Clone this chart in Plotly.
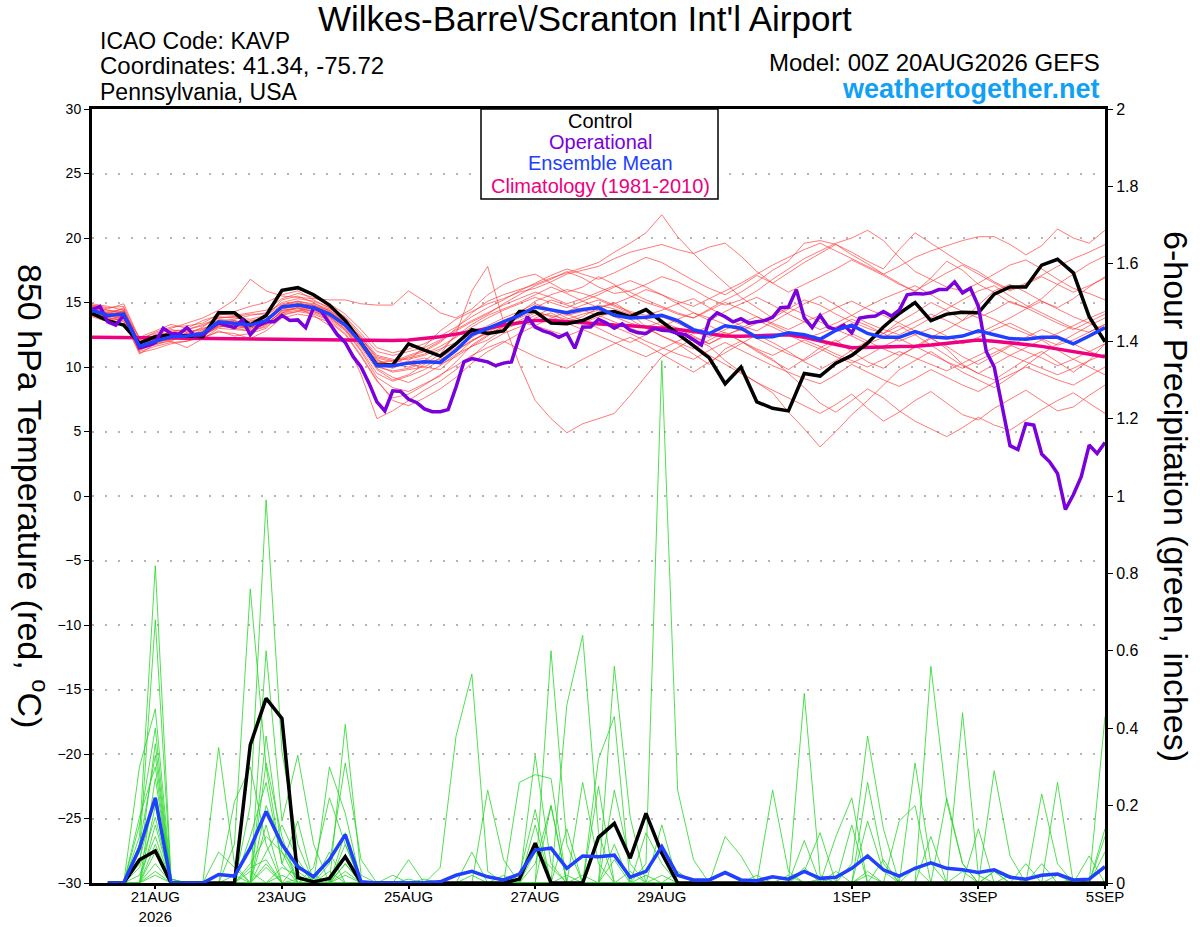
import pandas as pd
import plotly.graph_objects as go

# -----------------------------
# Data
# -----------------------------
run_time = "2026-08-20 00:00"
t6 = pd.date_range(run_time, periods=65, freq="6h")    # 6-hourly temperature steps
t3 = pd.date_range(run_time, periods=129, freq="3h")   # 3-hourly operational run
tp = t6[1:]                                            # 6-hour precip valid times

tick_dates = ["2026-08-21", "2026-08-23", "2026-08-25", "2026-08-27",
              "2026-08-29", "2026-09-01", "2026-09-03", "2026-09-05"]
tick_text = ["21AUG<br>2026", "23AUG", "25AUG", "27AUG", "29AUG", "1SEP", "3SEP", "5SEP"]
temp_ticks = [-30, -25, -20, -15, -10, -5, 0, 5, 10, 15, 20, 25, 30]
precip_ticks = [0, 0.2, 0.4, 0.6, 0.8, 1, 1.2, 1.4, 1.6, 1.8, 2]

climatology = [12.3, 12.3, 12.28, 12.27, 12.25, 12.24, 12.23, 12.22, 12.2, 12.2, 12.18, 12.17,
               12.15, 12.14, 12.12, 12.1, 12.1, 12.08, 12.05, 12.05, 12.1, 12.2, 12.35, 12.55,
               12.75, 12.98, 13.25, 13.45, 13.6, 13.6, 13.5, 13.4, 13.3, 13.25, 13.2, 13.1,
               13.05, 12.9, 12.75, 12.55, 12.4, 12.38, 12.4, 12.45, 12.5, 12.3, 12.0, 11.75,
               11.5, 11.5, 11.55, 11.58, 11.6, 11.7, 11.85, 12.0, 12.1, 12.0, 11.9, 11.75,
               11.6, 11.4, 11.2, 11.0, 10.8]

ens_mean = [14.4, 14.0, 14.1, 11.6, 12.0, 12.35, 12.4, 12.6, 13.5, 13.4, 13.25, 13.6, 14.65,
            14.8, 14.6, 14.1, 13.25,
            11.9, 10.1, 10.1, 10.3, 10.4, 10.35, 11.3, 12.5, 13.0, 13.5,
            14.0, 14.65, 14.4, 14.2, 14.45, 14.6, 14.0, 13.8, 13.85, 14.0, 13.6, 12.9, 12.6, 13.2,
            13.0, 12.3, 12.35, 12.65, 12.5, 12.15, 12.85, 13.25, 12.6, 12.3, 12.3, 12.75,
            12.35, 12.25, 12.4, 12.8, 12.5, 12.2, 12.15, 12.3, 12.3, 11.8, 12.4, 13.05]

control = [14.15, 13.6, 13.25, 11.85, 12.35, 12.5, 12.4, 12.35, 14.2, 14.2, 13.25, 14.0, 15.95,
           16.15, 15.6, 14.8, 13.6,
           11.85, 10.15, 10.15, 11.8, 11.3, 10.85, 11.8, 12.9, 12.6, 12.8,
           14.3, 14.3, 13.4, 13.35, 13.6, 14.15, 14.3, 13.9, 14.45, 13.5, 12.6, 11.6, 10.7, 8.7,
           10.0, 7.3, 6.8, 6.6, 9.5, 9.3, 10.3, 10.9, 11.85, 13.1, 14.15, 15.0, 13.6, 14.1,
           14.25, 14.2, 15.65, 16.2, 16.2, 17.9, 18.35, 17.3, 13.9, 11.95]

operational = [14.45, 14.7, 13.5, 13.25, 14.0, 12.9, 11.5, 11.65, 11.9, 13.0, 12.6, 12.55,
               13.05, 12.4, 12.5, 13.0, 13.4, 13.2, 13.05, 13.65, 12.5, 13.2, 13.5, 13.5,
               14.0, 13.6, 13.65, 13.05, 14.6, 14.3, 13.4, 12.5, 11.9, 10.8, 10.0, 8.75,
               7.3, 6.6, 8.15, 8.1, 7.5, 7.25, 6.75,
               6.53, 6.53, 6.7, 8.45, 10.4, 10.65, 10.5, 10.4, 10.1, 10.3, 10.4, 12.35,
               13.9, 13.1, 12.8, 12.6, 12.3, 12.6, 11.45, 13.1, 13.1, 13.7, 13.4, 13.0,
               13.35, 12.85, 12.65, 12.6, 13.0, 12.85, 12.8, 12.6, 12.5, 12.1, 11.7, 13.65,
               14.2, 13.9, 13.5, 13.75, 13.4, 13.5,
               13.6, 13.85, 14.6, 14.65, 16.0, 13.8, 13.05, 14.0, 13.1, 12.9, 13.25, 12.65,
               13.8, 13.9, 13.95, 14.3, 13.95, 14.4, 15.6, 15.7, 15.65, 15.75, 16.0, 16.0,
               16.6, 15.75, 16.1, 14.7, 11.2, 10.0, 6.9, 3.9, 3.6, 5.6, 5.5, 3.25,
               2.65, 1.75, -1.05, 0.1, 1.5, 3.95, 3.3, 4.15]

# ensemble members, 850 hPa temperature
red01 = [14.8, 14.5, 14.9, 12.2, 12.6, 13.0, 13.4, 13.8, 14.4, 15.2, 16.8, 15.9, 15.5, 15.4, 15.3, 15.2, 15.2,
         14.9, 14.8, 14.8, 15.9, 15.1, 14.2, 13.8, 14.5, 15.6, 16.4,
         16.9, 17.2, 16.5, 15.8, 16.2, 17.0, 16.4, 15.5, 15.0, 14.6, 14.1, 13.8, 14.5, 15.2,
         15.8, 16.6, 17.5, 18.2, 19.6, 19.8, 19.5, 18.7, 18.0, 17.2, 16.5, 15.8, 16.9, 18.2, 17.5, 16.4,
         15.8, 15.0, 14.6, 15.3, 16.4, 17.2, 18.0, 18.6]
red02 = [14.2, 13.8, 13.6, 11.0, 11.8, 12.0, 11.5, 12.2, 12.8, 12.4, 12.6, 13.0, 14.2, 14.6, 14.0, 13.2, 12.1,
         9.4, 6.0, 6.6, 7.4, 8.2, 8.9, 9.8, 10.8, 11.9, 12.6,
         13.1, 13.8, 14.2, 13.5, 13.9, 14.6, 15.0, 14.2, 13.1, 12.4, 11.8, 11.0, 10.2, 11.4,
         12.0, 11.2, 10.5, 9.8, 10.6, 11.5, 12.1, 11.2, 10.4, 9.9, 10.8, 11.6, 12.3, 11.4, 10.2, 9.5,
         9.0, 9.8, 10.6, 11.2, 10.4, 9.6, 10.5, 11.8]
red03 = [14.5, 14.1, 14.6, 11.8, 12.2, 12.8, 12.9, 13.2, 13.8, 13.9, 13.5, 13.9, 15.2, 15.5, 15.0, 14.3, 13.4,
         12.0, 10.5, 10.2, 10.8, 11.2, 11.9, 13.0, 14.2, 15.1, 15.6,
         16.0, 16.4, 16.9, 17.3, 17.7, 18.1, 18.9, 19.6, 20.4, 21.8, 20.1, 18.8, 17.6, 16.5,
         15.4, 14.6, 13.8, 14.5, 15.2, 14.8, 14.1, 13.5, 13.0, 12.6, 13.5, 14.2, 15.0, 14.4, 13.6, 14.8,
         15.9, 16.4, 15.8, 15.1, 14.6, 15.3, 16.2, 17.0]
red04 = [14.0, 13.6, 13.9, 11.2, 11.6, 11.9, 12.0, 12.4, 13.2, 13.0, 12.8, 13.2, 14.4, 14.5, 14.3, 13.8, 12.9,
         11.5, 9.8, 9.0, 9.4, 10.2, 11.0, 12.6, 15.9, 17.8, 13.5,
         10.2, 7.4, 6.0, 4.9, 5.6, 6.0, 6.4, 7.8, 9.3, 10.8, 11.5, 12.2, 11.6, 10.5,
         9.6, 8.8, 8.0, 6.5, 5.2, 3.8, 5.0, 6.3, 7.4, 8.6, 9.8, 10.5, 11.2, 10.4, 9.6, 9.0,
         8.4, 9.2, 10.1, 11.0, 11.8, 12.5, 13.2, 13.8]
red05 = [14.6, 14.3, 14.2, 11.9, 12.4, 12.7, 12.3, 12.9, 13.6, 13.7, 14.0, 14.2, 14.9, 15.1, 14.9, 14.5, 13.8,
         12.4, 10.9, 10.6, 10.2, 10.0, 9.8, 10.9, 12.0, 12.8, 13.4,
         14.2, 15.1, 15.6, 16.0, 15.7, 15.3, 14.8, 14.3, 14.0, 14.4, 14.9, 15.3, 14.6, 13.9,
         13.2, 12.8, 13.5, 14.2, 14.9, 15.5, 14.8, 14.0, 13.4, 12.9, 12.5, 13.1, 13.8, 14.5, 15.2, 15.9,
         16.3, 15.5, 14.8, 14.2, 13.6, 13.0, 12.7, 13.3]
red06 = [14.3, 14.0, 13.7, 11.4, 11.9, 12.2, 12.6, 12.5, 13.1, 13.3, 13.0, 13.4, 14.0, 14.3, 14.7, 14.4, 13.5,
         11.8, 9.9, 9.2, 8.8, 9.4, 10.1, 11.0, 11.6, 12.1, 12.9,
         13.4, 14.0, 14.5, 14.1, 13.6, 13.0, 12.4, 11.9, 12.5, 13.2, 12.6, 11.8, 10.9, 10.2,
         9.5, 8.8, 8.2, 7.6, 7.0, 6.4, 7.1, 7.9, 6.8, 5.8, 6.5, 7.4, 8.1, 7.2, 6.3, 5.9,
         6.8, 7.5, 8.2, 7.4, 6.6, 6.9, 7.8, 8.6]
red07 = [14.9, 14.7, 14.4, 12.0, 12.5, 12.9, 12.7, 13.0, 13.4, 13.1, 13.6, 13.8, 14.6, 14.9, 14.8, 14.4, 13.6,
         12.3, 10.7, 10.4, 10.9, 11.3, 12.0, 12.8, 13.5, 14.1, 14.9,
         15.6, 16.3, 16.8, 17.4, 16.9, 16.2, 15.7, 15.9, 16.4, 17.0, 16.6, 16.0, 15.3, 14.8,
         15.2, 15.9, 16.8, 17.6, 18.4, 19.0, 19.6, 20.0, 20.6, 19.8, 18.5, 17.4, 16.8, 16.2, 15.9, 16.5,
         17.2, 17.9, 18.3, 17.6, 16.8, 16.1, 15.7, 15.2]
red08 = [14.1, 13.7, 14.0, 11.5, 11.7, 12.1, 12.5, 12.7, 13.3, 13.2, 12.9, 13.3, 14.3, 14.6, 14.4, 13.9, 13.0,
         11.6, 10.0, 9.7, 9.9, 10.3, 10.6, 11.2, 12.1, 12.6, 13.1,
         13.6, 14.2, 14.0, 13.7, 14.1, 14.4, 13.9, 13.4, 13.1, 13.5, 13.0, 12.4, 11.8, 12.5,
         12.9, 12.2, 11.6, 11.0, 10.5, 11.2, 11.9, 12.6, 12.0, 11.4, 10.9, 11.5, 12.2, 11.6, 10.8, 10.2,
         10.9, 11.6, 12.3, 12.9, 12.4, 11.8, 11.2, 10.8]
red09 = [14.7, 14.4, 14.3, 12.3, 12.8, 13.3, 13.0, 13.6, 14.0, 14.3, 14.7, 15.0, 15.6, 15.9, 15.2, 14.6, 13.7,
         12.2, 10.6, 10.0, 10.5, 11.6, 12.8, 13.7, 14.3, 14.9, 15.3,
         15.8, 16.1, 16.6, 17.2, 17.5, 17.8, 18.4, 18.9, 19.2, 19.5, 19.1, 18.8, 19.3, 19.6,
         18.6, 17.4, 16.5, 17.3, 18.1, 18.8, 19.5, 18.9, 18.2, 17.6, 19.1, 20.4, 19.6, 18.8, 18.0, 17.4,
         16.6, 16.0, 16.5, 17.1, 17.8, 18.4, 18.9, 19.5]
red10 = [13.9, 13.5, 13.8, 11.1, 11.4, 11.8, 12.0, 12.3, 12.7, 12.6, 12.2, 12.8, 13.8, 14.1, 13.9, 13.5, 12.5,
         10.8, 8.9, 7.6, 7.9, 8.6, 9.4, 10.1, 10.9, 11.5, 12.0,
         11.4, 10.8, 10.3, 9.9, 10.6, 11.2, 11.8, 12.3, 11.7, 11.0, 10.3, 9.6, 10.4, 11.1,
         11.8, 12.5, 11.9, 11.2, 10.4, 9.8, 10.5, 11.3, 12.0, 12.6, 13.2, 12.5, 11.7, 10.9, 10.1, 9.5,
         10.2, 10.9, 11.5, 12.1, 11.3, 10.6, 10.0, 9.4]
red11 = [14.4, 14.2, 14.5, 11.7, 12.3, 12.4, 12.8, 12.6, 13.5, 13.6, 13.3, 13.7, 14.8, 15.0, 14.7, 14.2, 13.3,
         12.1, 10.4, 10.2, 10.0, 10.5, 11.3, 12.4, 13.3, 14.0, 14.5,
         15.0, 15.6, 16.2, 15.7, 15.1, 14.6, 14.9, 15.4, 16.0, 15.6, 14.9, 14.2, 13.6, 14.3,
         14.9, 15.4, 14.8, 14.1, 13.5, 12.9, 13.4, 14.0, 14.7, 15.3, 15.8, 16.3, 15.6, 14.9, 14.3, 13.8,
         14.4, 15.1, 14.6, 14.0, 13.4, 12.9, 13.5, 14.1]
red12 = [14.6, 14.1, 14.3, 11.6, 12.1, 12.5, 12.2, 12.8, 13.7, 13.5, 13.4, 13.5, 14.5, 14.7, 14.5, 14.0, 13.1,
         11.7, 10.1, 9.6, 9.8, 10.0, 10.7, 11.5, 12.3, 13.0, 13.6,
         14.1, 14.7, 14.4, 13.8, 13.4, 13.9, 14.3, 13.7, 13.0, 12.4, 11.9, 11.4, 12.1, 12.7,
         12.0, 11.3, 10.6, 9.5, 8.4, 7.2, 6.5, 7.4, 8.3, 7.6, 6.6, 5.8, 5.2, 4.6, 5.3, 6.1,
         5.5, 5.1, 5.9, 6.7, 7.4, 8.0, 7.2, 6.4]
red13 = [14.2, 13.9, 14.1, 11.3, 11.9, 12.3, 12.1, 12.7, 13.4, 13.6, 13.2, 13.6, 14.7, 14.8, 14.6, 14.1, 13.2,
         11.9, 10.3, 10.5, 10.6, 10.9, 11.4, 11.9, 12.6, 13.2, 13.8,
         14.3, 14.9, 14.5, 14.0, 14.3, 14.8, 14.5, 14.1, 13.8, 13.9, 13.4, 12.8, 12.3, 12.9,
         13.4, 13.9, 13.3, 12.7, 12.2, 12.6, 13.1, 13.7, 13.2, 12.6, 12.0, 12.5, 13.0, 12.4, 11.8, 12.3,
         12.9, 13.4, 12.8, 12.2, 11.7, 12.1, 12.7, 13.3]
red14 = [14.5, 14.0, 13.8, 11.9, 12.0, 12.6, 12.4, 12.5, 13.2, 13.0, 13.1, 13.4, 14.2, 14.4, 14.2, 13.7, 12.8,
         11.2, 9.2, 8.4, 8.1, 8.7, 9.3, 10.4, 11.7, 12.5, 13.0,
         13.5, 13.2, 12.8, 12.4, 12.9, 13.5, 13.1, 12.6, 12.0, 11.5, 11.0, 10.6, 11.3, 11.9,
         11.3, 10.7, 10.1, 9.6, 9.1, 8.7, 9.4, 10.2, 9.6, 9.0, 8.5, 9.1, 9.8, 9.2, 8.6, 8.1,
         8.8, 9.4, 10.0, 9.5, 9.0, 8.6, 9.3, 10.0]
red15 = [14.8, 14.6, 14.7, 12.1, 12.7, 13.1, 13.2, 13.4, 14.1, 14.0, 14.2, 14.4, 15.3, 15.7, 15.4, 14.9, 14.1,
         12.9, 11.5, 11.1, 11.4, 11.8, 12.4, 13.1, 13.9, 14.6, 15.2,
         15.9, 16.5, 17.1, 17.6, 17.2, 16.8, 17.3, 17.9, 18.5, 18.1, 17.4, 16.7, 16.1, 15.6,
         16.3, 17.1, 16.5, 15.8, 16.4, 17.0, 17.6, 18.3, 17.7, 17.1, 16.4, 15.9, 16.6, 17.3, 17.9, 17.2,
         16.5, 15.9, 16.4, 17.0, 16.4, 15.8, 16.3, 16.9]
red16 = [14.0, 13.8, 14.4, 11.6, 12.2, 12.0, 12.7, 12.9, 13.5, 13.4, 13.0, 13.5, 14.6, 14.9, 14.6, 14.3, 13.4,
         12.0, 10.2, 9.9, 10.4, 10.7, 10.2, 10.8, 11.6, 12.4, 13.2,
         13.9, 14.6, 15.2, 14.8, 14.4, 14.0, 13.5, 13.0, 12.6, 13.1, 13.7, 14.2, 13.8, 13.3,
         12.8, 13.4, 14.0, 14.6, 14.1, 13.5, 12.9, 12.4, 11.8, 12.3, 12.9, 13.5, 14.1, 13.6, 13.0, 12.6,
         13.2, 13.8, 14.5, 15.1, 14.5, 13.9, 13.4, 12.9]
red17 = [14.3, 13.9, 13.5, 11.3, 11.8, 12.2, 12.4, 12.2, 13.0, 12.9, 12.8, 13.1, 14.1, 14.3, 14.1, 13.6, 12.6,
         10.9, 9.0, 7.4, 7.0, 7.6, 8.3, 9.2, 10.3, 11.2, 11.9,
         12.6, 13.2, 13.8, 14.3, 14.8, 15.2, 14.7, 14.2, 13.7, 13.2, 12.8, 12.3, 11.8, 12.4,
         13.0, 13.6, 13.1, 12.5, 11.9, 11.4, 10.8, 10.3, 10.9, 11.6, 12.2, 11.6, 11.0, 10.4, 9.9, 10.5,
         11.1, 11.7, 11.2, 10.7, 10.1, 10.6, 11.2, 11.8]
red18 = [14.6, 14.2, 14.0, 11.8, 12.3, 12.6, 12.5, 13.1, 13.9, 13.8, 13.7, 14.0, 14.8, 15.1, 14.8, 14.2, 13.5,
         12.2, 10.8, 10.5, 10.7, 11.0, 11.6, 12.3, 13.1, 13.8, 14.4,
         14.9, 15.4, 15.0, 14.6, 15.1, 15.6, 16.2, 16.7, 16.2, 15.6, 15.1, 14.7, 15.3, 15.9,
         16.5, 17.2, 17.9, 18.5, 19.1, 19.6, 19.0, 18.4, 17.8, 17.2, 17.8, 18.5, 19.0, 19.4, 19.8, 20.1,
         20.1, 19.5, 18.7, 19.4, 20.7, 20.0, 19.6, 20.6]
red19 = [14.4, 14.1, 13.9, 11.5, 12.0, 12.3, 12.6, 12.4, 13.1, 13.2, 13.1, 13.3, 14.4, 14.6, 14.3, 13.9, 12.9,
         11.3, 9.5, 8.9, 9.3, 9.8, 10.5, 11.3, 12.0, 12.7, 13.3,
         13.8, 14.3, 13.9, 13.4, 12.9, 12.4, 11.9, 11.3, 10.8, 11.4, 12.0, 12.6, 13.2, 12.6,
         12.0, 11.4, 10.9, 11.5, 12.1, 11.6, 11.0, 10.5, 10.0, 10.6, 11.2, 10.7, 10.2, 9.7, 10.3, 10.9,
         11.5, 10.9, 10.4, 9.9, 9.4, 9.9, 10.5, 11.0]
red20 = [14.7, 14.4, 14.2, 11.9, 12.4, 12.7, 12.9, 13.3, 13.8, 13.9, 14.1, 14.1, 15.0, 15.3, 15.1, 14.6, 13.9,
         12.6, 11.2, 10.9, 11.2, 11.5, 12.1, 12.9, 13.6, 14.2, 14.8,
         15.3, 15.8, 15.4, 14.9, 15.3, 15.8, 16.3, 15.8, 15.2, 14.7, 14.2, 13.8, 14.4, 15.0,
         14.5, 13.9, 13.4, 12.9, 13.5, 14.0, 14.6, 15.1, 14.5, 14.0, 13.4, 12.8, 12.3, 12.9, 13.6, 14.2,
         13.7, 13.1, 12.6, 12.1, 12.6, 13.2, 13.8, 14.3]

# 6-hour precipitation (inches), valid 06Z 20AUG .. 00Z 05SEP
mean_precip = [0, 0, 0.09, 0.22, 0, 0, 0, 0.022,
               0.018, 0.09, 0.185, 0.10, 0.042, 0.016, 0.06, 0.125,
               0.003, 0, 0, 0, 0.001, 0.003, 0.02, 0.03,
               0.016, 0.008, 0.023, 0.085, 0.09, 0.038, 0.07, 0.068,
               0.072, 0.015, 0.03, 0.094, 0.02, 0.008, 0.008, 0.027,
               0.008, 0.006, 0.016, 0.01, 0.03, 0.012, 0.015, 0.038,
               0.07, 0.034, 0.018, 0.038, 0.052, 0.038, 0.034, 0.027,
               0.034, 0.015, 0.01, 0.02, 0.023, 0.008, 0.01, 0.042]
control_precip = [0, 0, 0.06, 0.083, 0, 0, 0, 0,
                  0, 0.357, 0.477, 0.425, 0.014, 0.003, 0.012, 0.068,
                  0, 0, 0, 0, 0, 0, 0, 0,
                  0, 0, 0.01, 0.103, 0, 0, 0, 0.118,
                  0.154, 0.064, 0.18, 0.077, 0, 0, 0, 0,
                  0, 0, 0, 0, 0, 0, 0, 0,
                  0, 0, 0, 0, 0, 0, 0, 0,
                  0, 0, 0, 0, 0, 0, 0, 0]

green01 = [0, 0, 0.12, 0.82, 0.01, 0, 0, 0,  0.1, 0.76, 0.3, 0.05, 0, 0, 0, 0.13,
           0, 0, 0, 0, 0, 0, 0, 0,  0, 0, 0, 0.05, 0.2, 0, 0, 0,
           0, 0, 0, 0.02, 0, 0, 0, 0,  0, 0, 0, 0, 0.11, 0, 0, 0,
           0.03, 0, 0, 0, 0, 0, 0, 0,  0, 0, 0, 0.23, 0.05, 0, 0, 0]
green02 = [0, 0, 0.08, 0.68, 0, 0, 0, 0,  0, 0.2, 0.99, 0.34, 0.1, 0, 0.05, 0.31,
           0.06, 0, 0, 0, 0, 0, 0, 0,  0, 0, 0.02, 0.19, 0, 0, 0, 0,
           0.1, 0, 0, 0, 0, 0, 0, 0,  0, 0, 0, 0, 0, 0, 0, 0.05,
           0.38, 0.14, 0, 0, 0, 0, 0, 0,  0.03, 0, 0, 0, 0, 0, 0, 0]
green03 = [0, 0, 0.3, 0.45, 0.01, 0, 0, 0,  0, 0, 0.6, 0.16, 0.33, 0.1, 0, 0.41,
           0.02, 0, 0, 0, 0, 0.04, 0.38, 0.54,  0.03, 0, 0, 0, 0, 0, 0.02, 0,
           0, 0, 0, 0, 0, 0, 0, 0,  0, 0, 0, 0, 0, 0, 0, 0,
           0, 0, 0, 0.31, 0.05, 0, 0, 0,  0, 0, 0, 0, 0, 0, 0, 0.12]
green04 = [0, 0, 0.15, 0.4, 0, 0, 0, 0.35,  0.05, 0, 0.38, 0.08, 0, 0, 0.3, 0.18,
           0, 0, 0, 0, 0, 0, 0, 0,  0, 0, 0, 0, 0.6, 0.1, 0, 0,
           0, 0, 0.13, 0.05, 0, 0, 0, 0,  0, 0, 0.24, 0.03, 0, 0, 0, 0,
           0, 0, 0, 0, 0, 0, 0.44, 0.02,  0, 0, 0, 0, 0, 0, 0, 0]
green05 = [0, 0, 0.05, 0.36, 0, 0, 0, 0,  0.21, 0.3, 0.1, 0, 0, 0.04, 0.22, 0.1,
           0, 0, 0, 0.06, 0, 0, 0, 0,  0, 0, 0, 0, 0, 0.46, 0.64, 0.13,
           0, 0, 0, 0, 0, 0, 0, 0,  0, 0, 0, 0, 0.49, 0.02, 0, 0,
           0, 0, 0, 0, 0, 0, 0, 0,  0, 0, 0, 0, 0, 0, 0, 0.43]
green06 = [0, 0, 0.1, 0.33, 0, 0, 0, 0,  0, 0, 0.31, 0.12, 0, 0, 0, 0.05,
           0, 0, 0, 0, 0, 0, 0, 0,  0.24, 0.06, 0, 0, 0, 0, 0, 0,
           0.56, 0.17, 0, 0, 0, 0, 0, 0,  0, 0, 0, 0, 0, 0, 0, 0,
           0, 0, 0, 0, 0.56, 0.21, 0.05, 0,  0, 0, 0, 0, 0, 0, 0, 0]
green07 = [0, 0, 0.17, 0.3, 0, 0, 0, 0,  0, 0.12, 0.26, 0.05, 0.16, 0, 0, 0,
           0, 0, 0, 0, 0, 0, 0, 0,  0, 0, 0, 0.33, 0.05, 0, 0, 0,
           0, 0, 0.05, 1.35, 0.24, 0.06, 0, 0,  0, 0, 0, 0, 0, 0, 0, 0,
           0, 0, 0, 0, 0, 0, 0, 0,  0.29, 0.07, 0, 0, 0, 0, 0, 0]
green08 = [0, 0, 0, 0.27, 0.01, 0, 0, 0,  0, 0, 0.2, 0.1, 0, 0, 0, 0.07,
           0, 0, 0, 0, 0, 0, 0, 0,  0, 0, 0.26, 0.28, 0.27, 0, 0, 0,
           0, 0, 0, 0, 0, 0, 0, 0.12,  0.07, 0, 0, 0, 0, 0, 0, 0,
           0.26, 0.05, 0, 0, 0, 0, 0, 0,  0, 0, 0, 0, 0.26, 0, 0, 0]
green09 = [0, 0, 0.06, 0.22, 0, 0, 0, 0.08,  0.04, 0, 0.15, 0, 0.05, 0, 0, 0.1,
           0, 0, 0, 0, 0, 0, 0, 0,  0, 0, 0, 0, 0, 0, 0, 0.32,
           0.43, 0, 0, 0, 0, 0, 0, 0,  0, 0, 0, 0, 0, 0, 0.12, 0.22,
           0, 0, 0, 0, 0, 0.22, 0.05, 0,  0, 0, 0, 0, 0, 0, 0, 0]
green10 = [0, 0, 0, 0.2, 0, 0, 0, 0,  0, 0.05, 0.12, 0.08, 0.03, 0, 0, 0,
           0, 0, 0.02, 0, 0, 0, 0, 0.08,  0, 0, 0, 0, 0, 0, 0, 0,
           0.24, 0.05, 0, 0, 0, 0, 0, 0,  0, 0, 0, 0, 0.03, 0.13, 0, 0,
           0, 0, 0.16, 0.2, 0, 0, 0, 0,  0, 0, 0, 0, 0, 0, 0, 0.14]
green11 = [0, 0, 0.04, 0.17, 0, 0, 0, 0,  0, 0, 0.08, 0.15, 0.06, 0, 0.08, 0,
           0, 0, 0, 0, 0, 0, 0, 0,  0, 0, 0, 0, 0.2, 0, 0, 0.25,
           0, 0, 0, 0, 0, 0, 0, 0,  0, 0, 0, 0, 0, 0, 0, 0.15,
           0, 0, 0, 0, 0, 0, 0, 0.14,  0, 0, 0, 0, 0, 0, 0.07, 0]
green12 = [0, 0, 0, 0.15, 0, 0, 0, 0,  0, 0.04, 0.06, 0, 0, 0, 0, 0.05,
           0, 0, 0, 0, 0.01, 0, 0, 0,  0, 0, 0, 0.15, 0, 0.14, 0, 0,
           0, 0, 0, 0.15, 0, 0, 0, 0,  0, 0, 0, 0, 0, 0, 0, 0,
           0.16, 0.03, 0, 0, 0, 0, 0, 0,  0, 0, 0.05, 0, 0, 0, 0, 0]
green13 = [0, 0, 0.02, 0.12, 0, 0, 0, 0,  0, 0, 0, 0.04, 0.02, 0, 0.03, 0,
           0, 0, 0, 0, 0, 0, 0, 0,  0, 0, 0, 0, 0, 0, 0.26, 0.05,
           0, 0, 0, 0, 0, 0, 0, 0,  0, 0, 0, 0, 0.04, 0, 0, 0,
           0, 0, 0, 0, 0.12, 0, 0, 0,  0, 0, 0, 0.05, 0, 0, 0, 0]
green14 = [0, 0, 0, 0.1, 0, 0, 0, 0,  0, 0, 0.05, 0, 0, 0.02, 0, 0.03,
           0, 0, 0, 0.01, 0, 0, 0, 0,  0, 0.02, 0, 0, 0, 0, 0, 0,
           0.06, 0, 0, 0, 0, 0, 0, 0,  0, 0.02, 0, 0, 0, 0, 0, 0,
           0, 0, 0, 0.04, 0, 0, 0, 0,  0, 0, 0, 0, 0, 0, 0, 0.08]
green15 = [0, 0, 0, 0.08, 0, 0, 0, 0,  0.02, 0, 0.04, 0, 0, 0, 0, 0,
           0, 0, 0, 0, 0, 0, 0, 0,  0, 0, 0, 0.08, 0.04, 0, 0, 0,
           0, 0, 0, 0, 0.03, 0, 0, 0,  0, 0, 0, 0, 0, 0, 0.03, 0,
           0, 0.06, 0, 0, 0, 0, 0, 0,  0, 0.02, 0, 0, 0, 0, 0, 0]
green16 = [0, 0, 0, 0.05, 0, 0, 0, 0,  0, 0.03, 0, 0.02, 0, 0, 0, 0,
           0, 0, 0, 0, 0, 0, 0, 0,  0, 0, 0, 0, 0, 0, 0, 0,
           0, 0.03, 0, 0, 0, 0, 0, 0,  0, 0, 0, 0.02, 0, 0, 0, 0,
           0, 0, 0, 0, 0, 0, 0.03, 0,  0, 0, 0, 0, 0.02, 0, 0, 0]
green17 = [0, 0, 0, 0.03, 0, 0, 0, 0,  0, 0, 0, 0, 0.01, 0, 0, 0,
           0, 0, 0, 0, 0, 0, 0, 0.02,  0, 0, 0, 0, 0, 0, 0, 0,
           0, 0, 0.02, 0, 0, 0, 0, 0,  0, 0, 0, 0, 0, 0, 0, 0,
           0.02, 0, 0, 0, 0, 0, 0, 0,  0, 0, 0, 0, 0, 0.01, 0, 0]
green18 = [0, 0, 0, 0.02, 0, 0, 0, 0,  0, 0, 0, 0, 0, 0, 0, 0.02,
           0, 0, 0, 0, 0, 0, 0, 0,  0, 0, 0, 0, 0, 0.02, 0, 0,
           0, 0, 0, 0, 0, 0, 0, 0,  0, 0, 0, 0, 0, 0.01, 0, 0,
           0, 0, 0, 0, 0, 0, 0, 0,  0.03, 0, 0, 0, 0, 0, 0, 0]

red_members = [red01, red02, red03, red04, red05, red06, red07, red08, red09, red10,
               red11, red12, red13, red14, red15, red16, red17, red18, red19, red20]
green_members = [green01, green02, green03, green04, green05, green06, green07, green08, green09,
                 green10, green11, green12, green13, green14, green15, green16, green17, green18]

# -----------------------------
# Colours / helpers
# -----------------------------
FONT = "Liberation Sans, Arial, sans-serif"
C_RED = "rgba(255,55,55,0.75)"
C_GREEN = "rgba(40,215,40,0.9)"
C_CONTROL = "#000000"
C_OPER = "#7a00dc"
C_MEAN = "#2040ff"
C_CLIMO = "#ee0080"


def px_x(px):
    return (px - 92) / 1013


def px_y(py):
    return (883 - py) / 774


fig = go.Figure()

# ensemble members
for m in red_members:
    fig.add_trace(go.Scatter(x=t6, y=m, mode="lines", line=dict(color=C_RED, width=0.9),
                             hoverinfo="skip"))
for m in green_members:
    fig.add_trace(go.Scatter(x=tp, y=m, mode="lines", line=dict(color=C_GREEN, width=0.9),
                             yaxis="y2", hoverinfo="skip"))

# main temperature lines
fig.add_trace(go.Scatter(x=t6, y=climatology, mode="lines", line=dict(color=C_CLIMO, width=3.5)))
fig.add_trace(go.Scatter(x=t6, y=control, mode="lines", line=dict(color=C_CONTROL, width=3.5)))
fig.add_trace(go.Scatter(x=t3, y=operational, mode="lines", line=dict(color=C_OPER, width=3.5)))
fig.add_trace(go.Scatter(x=t6, y=ens_mean, mode="lines", line=dict(color=C_MEAN, width=3.5)))

# main precip lines
fig.add_trace(go.Scatter(x=tp, y=control_precip, mode="lines", yaxis="y2",
                         line=dict(color=C_CONTROL, width=3.5)))
fig.add_trace(go.Scatter(x=tp, y=mean_precip, mode="lines", yaxis="y2",
                         line=dict(color=C_MEAN, width=3.5)))

# -----------------------------
# Layout
# -----------------------------
fig.update_layout(
    width=1200, height=927,
    margin=dict(l=92, r=95, t=109, b=44),
    paper_bgcolor="white", plot_bgcolor="white",
    showlegend=False,
    font=dict(family=FONT, color="black"),
    xaxis=dict(
        range=["2026-08-20 00:00", "2026-09-05 00:00"],
        tickvals=tick_dates, ticktext=tick_text,
        ticks="outside", ticklen=3, tickcolor="black", tickwidth=1.5,
        tickfont=dict(size=15), ticklabelstandoff=-5,
        showline=True, linecolor="black", linewidth=3, mirror=True,
        showgrid=False, zeroline=False, automargin=False,
    ),
    yaxis=dict(
        range=[-30, 30], tickvals=temp_ticks,
        ticks="outside", ticklen=5, tickcolor="black", tickfont=dict(size=14),
        showline=True, linecolor="black", linewidth=3,
        showgrid=True, gridcolor="#b4b4b4", gridwidth=1.5, griddash="2px,11px",
        zeroline=False, automargin=False,
    ),
    yaxis2=dict(
        range=[0, 2], tickvals=precip_ticks, overlaying="y", side="right",
        ticks="outside", ticklen=5, tickcolor="black", tickfont=dict(size=16),
        showline=True, linecolor="black", linewidth=3,
        showgrid=False, zeroline=False, automargin=False,
    ),
)

# legend box
fig.add_shape(type="rect", xref="paper", yref="paper",
              x0=px_x(481), x1=px_x(718), y0=px_y(199), y1=1,
              line=dict(color="black", width=1.5), fillcolor="white", layer="above")

legend_rows = [("Control", C_CONTROL, 121), ("Operational", C_OPER, 142),
               ("Ensemble Mean", C_MEAN, 163), ("Climatology (1981-2010)", C_CLIMO, 186)]
annotations = []
for text, color, ypx in legend_rows:
    annotations.append(dict(text=text, x=px_x(600), y=px_y(ypx), xref="paper", yref="paper",
                            xanchor="center", yanchor="middle", showarrow=False,
                            font=dict(size=20, color=color, family=FONT)))

# header texts
annotations += [
    dict(text="Wilkes-Barre\\/Scranton Int'l Airport", x=px_x(585), y=px_y(18),
         xanchor="center", yanchor="middle", font=dict(size=35)),
    dict(text="ICAO Code: KAVP", x=px_x(98), y=px_y(41), xanchor="left", yanchor="middle",
         font=dict(size=23)),
    dict(text="Coordinates: 41.34, -75.72", x=px_x(98), y=px_y(66), xanchor="left",
         yanchor="middle", font=dict(size=24)),
    dict(text="Pennsylvania, USA", x=px_x(98), y=px_y(92), xanchor="left", yanchor="middle",
         font=dict(size=23)),
    dict(text="Model: 00Z 20AUG2026 GEFS", x=px_x(1102), y=px_y(63), xanchor="right",
         yanchor="middle", font=dict(size=24)),
    dict(text="<b>weathertogether.net</b>", x=px_x(1102), y=px_y(89), xanchor="right",
         yanchor="middle", font=dict(size=27, color="#12a0f5")),
    # axis titles, both rotated clockwise
    dict(text="850 hPa Temperature (red, <sup>o</sup>C)", x=px_x(33), y=0.5, textangle=90,
         xanchor="center", yanchor="middle", font=dict(size=34)),
    dict(text="6-hour Precipitation (green, inches)", x=px_x(1176), y=0.5, textangle=90,
         xanchor="center", yanchor="middle", font=dict(size=34)),
]
for a in annotations[len(legend_rows):]:
    a.update(xref="paper", yref="paper", showarrow=False)
    a["font"].setdefault("family", FONT)
    a["font"].setdefault("color", "black")
fig.update_layout(annotations=annotations)

# the page is photographed edge to edge, so drop the default body margin
fig.write_html("out.html", config={"displayModeBar": False},
               post_script="document.body.style.margin='0';")
